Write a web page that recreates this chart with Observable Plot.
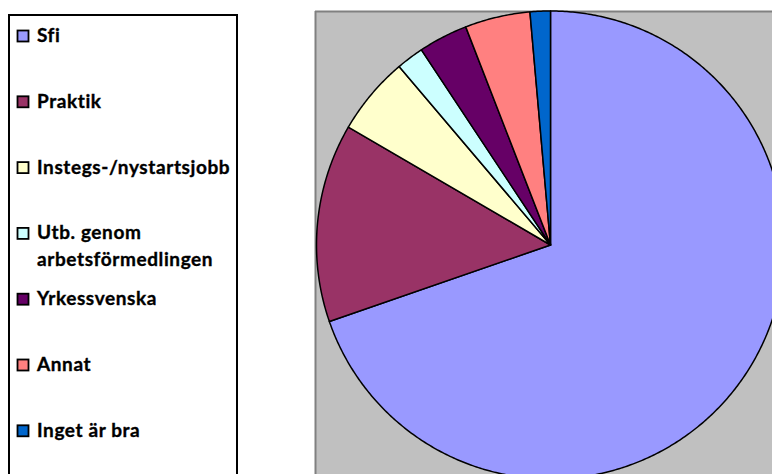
<!DOCTYPE html>
<html>
<head>
<meta charset="utf-8">
<script src="https://cdn.jsdelivr.net/npm/d3@7"></script>
<script src="https://cdn.jsdelivr.net/npm/@observablehq/plot@0.6"></script>
<style>
  html, body { margin: 0; padding: 0; background: #fff; overflow: hidden; }
  #wrap { position: relative; width: 772px; height: 474px; }
  #wrap svg { position: absolute; left: 0; top: 0; max-width: none; }
  .lg { font-variant-ligatures: none; font-feature-settings: "liga" 0; }
</style>
</head>
<body>
<div id="wrap"></div>
<script>
// ---- data ----
const categories = ["Sfi", "Praktik", "Instegs-/nystartsjobb", "Utb. genom arbetsförmedlingen", "Yrkessvenska", "Annat", "Inget är bra"];
const values = [69.7, 13.7, 5.4, 1.9, 3.4, 4.5, 1.4];
const colors = ["#9999FF", "#993366", "#FFFFCC", "#CCFFFF", "#660066", "#FF8080", "#0066CC"];
const legendLines = [["Sfi"], ["Praktik"], ["Instegs-/nystartsjobb"], ["Utb. genom", "arbetsförmedlingen"], ["Yrkessvenska"], ["Annat"], ["Inget är bra"]];

// ---- slice polygons from d3.pie (0 = 12 o'clock, clockwise) ----
const arcs = d3.pie().sort(null).value(d => d.value)(categories.map((name, i) => ({name, value: values[i]})));
const pts = [];
for (const a of arcs) {
  const name = a.data.name;
  pts.push({name, x: 0, y: 0});
  const n = Math.max(2, Math.ceil((a.endAngle - a.startAngle) / (Math.PI / 360)));
  for (let k = 0; k <= n; k++) {
    const t = a.startAngle + (a.endAngle - a.startAngle) * k / n;
    pts.push({name, x: Math.sin(t), y: Math.cos(t)});
  }
}

// ---- layout (pixels -> unit radius) ----
const W = 772, H = 474, mL = 315, mT = 11;
const cx = 550, cy = 244.5, R = 234;
const xDom = [-(cx - mL) / R, (W - cx) / R];
const yDom = [-(H - cy) / R, (cy - mT) / R];

const chart = Plot.plot({
  width: W, height: H,
  marginLeft: mL, marginTop: mT, marginRight: 0, marginBottom: 0,
  style: {background: "transparent", overflow: "visible"},
  x: {domain: xDom, axis: null},
  y: {domain: yDom, axis: null},
  color: {domain: categories, range: colors},
  marks: [
    Plot.frame({fill: "#C0C0C0", stroke: "none"}),
    Plot.ruleY([yDom[1]], {stroke: "#808080", strokeWidth: 2}),
    Plot.ruleX([xDom[0]], {stroke: "#808080", strokeWidth: 2}),
    Plot.line(pts, {x: "x", y: "y", z: "name", fill: "name", stroke: "#000", strokeWidth: 1.5, curve: "linear-closed", strokeLinejoin: "round"})
  ]
});
document.getElementById("wrap").appendChild(chart);

// ---- legend (left box) ----
const leg = d3.create("svg").attr("width", W).attr("height", H);
leg.append("rect").attr("x", 9).attr("y", 15).attr("width", 228).attr("height", 480)
  .attr("fill", "#fff").attr("stroke", "#000").attr("stroke-width", 2);
const step = 65.8;
categories.forEach((c, i) => {
  const g = leg.append("g").attr("transform", `translate(0,${i * step})`);
  g.append("rect").attr("x", 17.5).attr("y", 30.5).attr("width", 11).attr("height", 11)
    .attr("fill", colors[i]).attr("stroke", "#000").attr("stroke-width", 1.8);
  legendLines[i].forEach((line, j) => {
    g.append("text").attr("class", "lg").attr("x", 37).attr("y", 42 + j * 26.7)
      .attr("font-family", "Lato, 'Open Sans', sans-serif").attr("font-weight", "bold")
      .attr("font-size", 19).attr("letter-spacing", 0.6)
      .attr("fill", "#000").attr("stroke", "#000").attr("stroke-width", 0.35)
      .text(line);
  });
});
document.getElementById("wrap").appendChild(leg.node());
</script>
</body>
</html>
